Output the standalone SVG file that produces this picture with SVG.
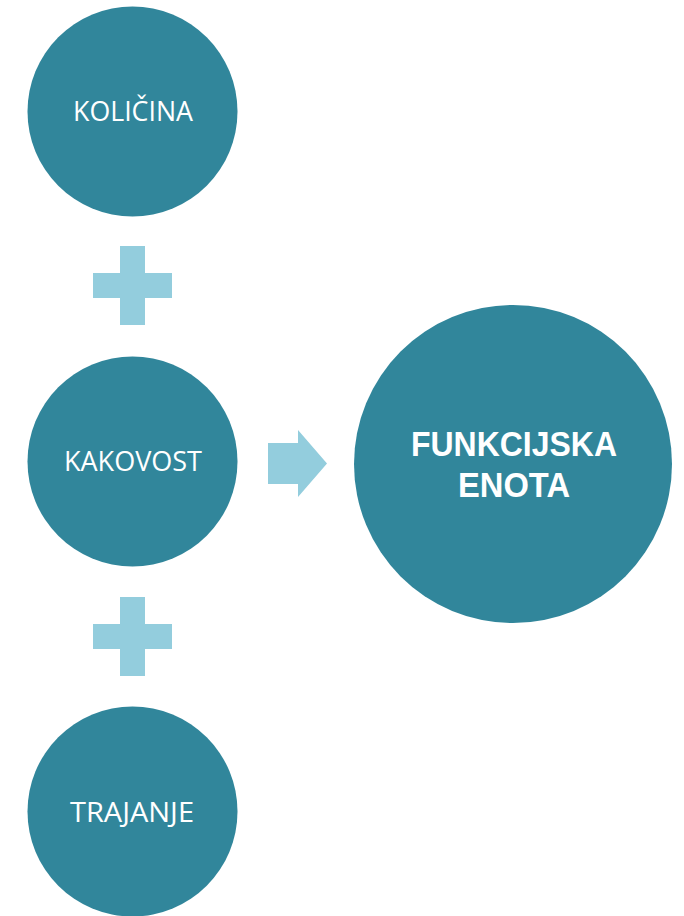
<svg xmlns="http://www.w3.org/2000/svg" width="684" height="916" viewBox="0 0 684 916">
  <style>
    .node { fill: #31869b; }
    .op { fill: #93cddd; }
    .lbl { fill: #ffffff; font-family: "Open Sans", "Liberation Sans", sans-serif; font-size: 27px; text-anchor: middle; }
    .big { fill: #ffffff; font-family: "Liberation Sans", "DejaVu Sans", sans-serif; font-weight: bold; font-size: 35px; text-anchor: middle; }
  </style>
  <rect width="684" height="916" fill="#ffffff"/>

  <g id="kolicina">
    <circle class="node" cx="132.5" cy="111.5" r="105"/>
    <text class="lbl" x="133" y="121" textLength="120" lengthAdjust="spacingAndGlyphs">KOLIČINA</text>
  </g>

  <g id="kakovost">
    <circle class="node" cx="132.5" cy="461.5" r="105"/>
    <text class="lbl" x="133" y="471" textLength="138" lengthAdjust="spacingAndGlyphs">KAKOVOST</text>
  </g>

  <g id="trajanje">
    <circle class="node" cx="132.5" cy="811.5" r="105"/>
    <text class="lbl" x="132" y="822" textLength="124" lengthAdjust="spacingAndGlyphs">TRAJANJE</text>
  </g>

  <g id="funkcijska-enota">
    <circle class="node" cx="513" cy="464" r="159"/>
    <text class="big" x="514" y="456" textLength="206" lengthAdjust="spacingAndGlyphs">FUNKCIJSKA</text>
    <text class="big" x="514" y="497" textLength="112" lengthAdjust="spacingAndGlyphs">ENOTA</text>
  </g>

  <g id="connectors">
    <!-- plus between first and second circle -->
    <path class="op" d="M120 246 H145 V273 H172 V298 H145 V325 H120 V298 H93 V273 H120 Z"/>
    <!-- plus between second and third circle -->
    <path class="op" d="M120 597 H145 V624 H172 V649 H145 V676 H120 V649 H93 V624 H120 Z"/>
    <!-- arrow into the result -->
    <path class="op" d="M268 443 H298 V430 L327 463.5 L298 497 V484 H268 Z"/>
  </g>
</svg>
